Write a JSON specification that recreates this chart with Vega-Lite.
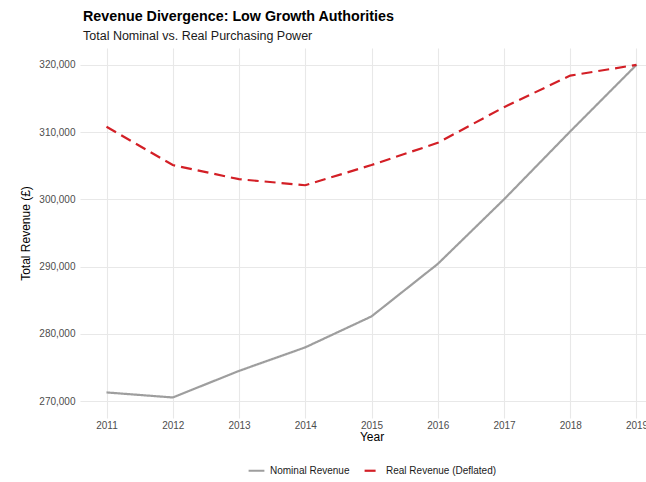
{
  "$schema": "https://vega.github.io/schema/vega-lite/v6.json",
  "autosize": "none",
  "padding": {"left": 80, "top": 48, "right": 0, "bottom": 64},
  "width": 583,
  "height": 370,
  "background": "white",
  "title": {
    "text": "Revenue Divergence: Low Growth Authorities",
    "subtitle": "Total Nominal vs. Real Purchasing Power",
    "anchor": "start",
    "frame": "group",
    "dx": 3,
    "offset": 6,
    "font": "Liberation Sans",
    "fontSize": 14.3,
    "fontWeight": "bold",
    "color": "#000000",
    "subtitleFont": "Liberation Sans",
    "subtitleFontSize": 12.5,
    "subtitleColor": "#1a1a1a",
    "subtitlePadding": 5
  },
  "data": {
    "values": [
      {"Year": 2011, "Series": "Nominal Revenue", "Revenue": 271300},
      {"Year": 2012, "Series": "Nominal Revenue", "Revenue": 270550},
      {"Year": 2013, "Series": "Nominal Revenue", "Revenue": 274500},
      {"Year": 2014, "Series": "Nominal Revenue", "Revenue": 278000},
      {"Year": 2015, "Series": "Nominal Revenue", "Revenue": 282600},
      {"Year": 2016, "Series": "Nominal Revenue", "Revenue": 290400},
      {"Year": 2017, "Series": "Nominal Revenue", "Revenue": 300000},
      {"Year": 2018, "Series": "Nominal Revenue", "Revenue": 310100},
      {"Year": 2019, "Series": "Nominal Revenue", "Revenue": 320000},
      {"Year": 2011, "Series": "Real Revenue (Deflated)", "Revenue": 310800},
      {"Year": 2012, "Series": "Real Revenue (Deflated)", "Revenue": 305100},
      {"Year": 2013, "Series": "Real Revenue (Deflated)", "Revenue": 303000},
      {"Year": 2014, "Series": "Real Revenue (Deflated)", "Revenue": 302100},
      {"Year": 2015, "Series": "Real Revenue (Deflated)", "Revenue": 305100},
      {"Year": 2016, "Series": "Real Revenue (Deflated)", "Revenue": 308400},
      {"Year": 2017, "Series": "Real Revenue (Deflated)", "Revenue": 313700},
      {"Year": 2018, "Series": "Real Revenue (Deflated)", "Revenue": 318400},
      {"Year": 2019, "Series": "Real Revenue (Deflated)", "Revenue": 320000}
    ]
  },
  "mark": {"type": "line", "strokeWidth": 2.2, "clip": true},
  "encoding": {
    "x": {
      "field": "Year",
      "type": "quantitative",
      "scale": {"domain": [2010.6, 2019.4], "nice": false, "zero": false},
      "axis": {
        "values": [2011, 2012, 2013, 2014, 2015, 2016, 2017, 2018, 2019],
        "format": "d",
        "title": "Year",
        "domain": false,
        "ticks": false,
        "labelFont": "Liberation Sans",
        "labelFontSize": 10,
        "labelColor": "#4d4d4d",
        "labelPadding": 2,
        "titleFont": "Liberation Sans",
        "titleFontSize": 12,
        "titleFontWeight": "normal",
        "titleColor": "#000000",
        "titlePadding": 1,
        "grid": true,
        "gridColor": "#e8e8e8",
        "gridWidth": 1.1
      }
    },
    "y": {
      "field": "Revenue",
      "type": "quantitative",
      "scale": {"domain": [267500, 322500], "nice": false, "zero": false},
      "axis": {
        "values": [270000, 280000, 290000, 300000, 310000, 320000],
        "format": ",d",
        "title": "Total Revenue (£)",
        "domain": false,
        "ticks": false,
        "labelFont": "Liberation Sans",
        "labelFontSize": 10,
        "labelColor": "#4d4d4d",
        "labelPadding": 5,
        "titleFont": "Liberation Sans",
        "titleFontSize": 12,
        "titleFontWeight": "normal",
        "titleColor": "#000000",
        "titlePadding": 6,
        "grid": true,
        "gridColor": "#e8e8e8",
        "gridWidth": 1.1
      }
    },
    "color": {
      "field": "Series",
      "type": "nominal",
      "scale": {"domain": ["Nominal Revenue", "Real Revenue (Deflated)"], "range": ["#9e9e9e", "#d31f26"]},
      "legend": {
        "title": null,
        "orient": "bottom",
        "direction": "horizontal",
        "symbolType": "stroke",
        "symbolStrokeWidth": 2.2,
        "symbolSize": 250,
        "labelFont": "Liberation Sans",
        "labelFontSize": 10,
        "labelColor": "#1a1a1a",
        "offset": 19,
        "columnPadding": 10
      }
    },
    "strokeDash": {
      "field": "Series",
      "type": "nominal",
      "scale": {"domain": ["Nominal Revenue", "Real Revenue (Deflated)"], "range": [[1, 0], [11, 6]]},
      "legend": {
        "title": null,
        "orient": "bottom",
        "direction": "horizontal",
        "symbolType": "stroke",
        "symbolStrokeWidth": 2.2,
        "symbolSize": 250,
        "labelFont": "Liberation Sans",
        "labelFontSize": 10,
        "labelColor": "#1a1a1a",
        "offset": 19,
        "columnPadding": 10
      }
    }
  },
  "config": {
    "view": {"stroke": null},
    "legend": {"layout": {"bottom": {"anchor": "middle"}}}
  }
}
